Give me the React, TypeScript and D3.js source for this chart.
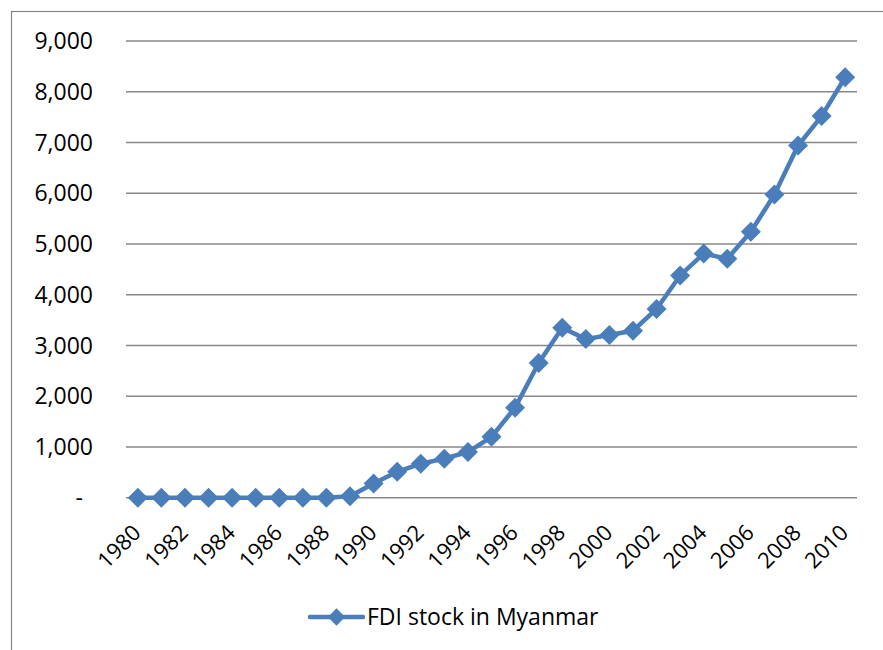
import React, { useEffect, useRef } from "react";
import * as d3 from "d3";

const years = [
  "1980", "1981", "1982", "1983", "1984", "1985", "1986", "1987", "1988", "1989",
  "1990", "1991", "1992", "1993", "1994", "1995", "1996", "1997", "1998", "1999",
  "2000", "2001", "2002", "2003", "2004", "2005", "2006", "2007", "2008", "2009", "2010",
];
const fdiStock = [
  0, 0, 0, 0, 0, 0, 0, 0, 0, 30,
  280, 510, 670, 770, 900, 1200, 1775, 2655, 3350, 3125,
  3205, 3290, 3720, 4380, 4810, 4710, 5240, 5975, 6940, 7520, 8285,
];
const yTicks = [0, 1000, 2000, 3000, 4000, 5000, 6000, 7000, 8000, 9000];
const xTickLabels = [
  "1980", "1982", "1984", "1986", "1988", "1990", "1992", "1994",
  "1996", "1998", "2000", "2002", "2004", "2006", "2008", "2010",
];
const seriesName = "FDI stock in Myanmar";

const W = 883;
const H = 650;
const FONT = "'Open Sans', 'Liberation Sans', sans-serif";
const BLUE = "#4a7ebb";
const GRID = "#878787";

export default function App() {
  const ref = useRef<SVGSVGElement | null>(null);

  useEffect(() => {
    document.body.style.margin = "0";
    const svg = d3.select(ref.current);
    svg.selectAll("*").remove();

    const left = 126, right = 857, top = 41, bottom = 497.7;
    const x = d3.scalePoint<string>().domain(years).range([left, right]).padding(0.5);
    const y = d3.scaleLinear().domain([0, 9000]).range([bottom, top]);

    svg.append("rect").attr("width", W).attr("height", H).attr("fill", "#fff");
    svg.append("rect")
      .attr("x", 11.5).attr("y", 11.5).attr("width", W + 20).attr("height", H + 20)
      .attr("fill", "none").attr("stroke", "#868686").attr("stroke-width", 1.2);

    // gridlines
    svg.append("g").selectAll("line").data(yTicks).join("line")
      .attr("x1", left).attr("x2", right)
      .attr("y1", (d) => y(d)).attr("y2", (d) => y(d))
      .attr("stroke", GRID).attr("stroke-width", 1.4);

    // y labels
    const fmt = d3.format(",");
    svg.append("g").selectAll("text").data(yTicks).join("text")
      .attr("x", (d) => (d === 0 ? 83 : 93))
      .attr("y", (d) => y(d))
      .attr("dy", "0.35em")
      .attr("text-anchor", "end")
      .attr("font-family", FONT).attr("font-size", 23).attr("fill", "#000")
      .text((d) => (d === 0 ? "-" : fmt(d)));

    // x labels
    svg.append("g").selectAll("text").data(xTickLabels).join("text")
      .attr("transform", (d) => `translate(${(x(d) as number) - 1},${bottom + 31}) rotate(-45)`)
      .attr("dy", "0.35em")
      .attr("text-anchor", "end")
      .attr("font-family", FONT).attr("font-size", 22).attr("fill", "#000")
      .text((d) => d);

    // line
    const data = years.map((yr, i) => ({ yr, v: fdiStock[i] }));
    const line = d3.line<{ yr: string; v: number }>()
      .x((d) => x(d.yr) as number)
      .y((d) => y(d.v));
    svg.append("path").datum(data)
      .attr("d", line)
      .attr("fill", "none").attr("stroke", BLUE).attr("stroke-width", 4.5)
      .attr("stroke-linejoin", "round").attr("stroke-linecap", "round");

    const diamond = d3.symbol().type(d3.symbolSquare).size(200);
    svg.append("g").selectAll("path").data(data).join("path")
      .attr("d", diamond)
      .attr("transform", (d) => `translate(${x(d.yr)},${y(d.v)}) rotate(45)`)
      .attr("fill", BLUE);

    // legend
    const lg = svg.append("g");
    lg.append("line").attr("x1", 310).attr("x2", 363).attr("y1", 617).attr("y2", 617)
      .attr("stroke", BLUE).attr("stroke-width", 4.5).attr("stroke-linecap", "round");
    lg.append("path").attr("d", d3.symbol().type(d3.symbolSquare).size(150)())
      .attr("transform", "translate(336.5,617) rotate(45)").attr("fill", BLUE);
    lg.append("text").attr("x", 367).attr("y", 617).attr("dy", "0.35em")
      .attr("font-family", FONT).attr("font-size", 23).attr("fill", "#000")
      .text(seriesName);
  }, []);

  return <svg ref={ref} width={W} height={H} style={{ display: "block" }} />;
}
